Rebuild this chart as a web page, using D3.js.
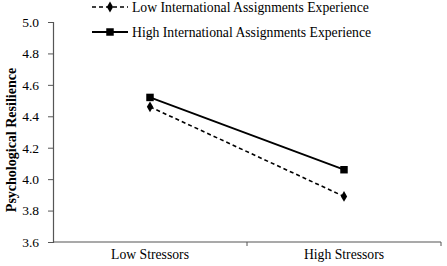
<!DOCTYPE html>
<html>
<head>
<meta charset="utf-8">
<script src="https://cdn.jsdelivr.net/npm/d3@7"></script>
<style>
  body { margin: 0; background: #fff; }
  text { font-family: "Liberation Serif", "Times New Roman", serif; fill: #000; }
</style>
</head>
<body>
<svg id="chart" width="447" height="266"></svg>
<script>
// data
var categories = ["Low Stressors", "High Stressors"];
var lowExperience = [4.46, 3.89];
var highExperience = [4.52, 4.06];
var yTicks = [3.6, 3.8, 4.0, 4.2, 4.4, 4.6, 4.8, 5.0];
var seriesNames = ["Low International Assignments Experience", "High International Assignments Experience"];

var svg = d3.select("#chart"),
    MARGINS = { top: 22, right: 6, bottom: 24, left: 53 },
    W = 447, H = 266;

var xScale = d3.scaleBand().domain(categories).range([MARGINS.left, W - MARGINS.right]);
var yScale = d3.scaleLinear().domain([3.6, 5.0]).range([H - MARGINS.bottom, MARGINS.top]);

// y axis
var yAxis = d3.axisLeft(yScale).tickValues(yTicks).tickFormat(d3.format(".1f")).tickSize(5).tickPadding(9);
var yG = svg.append("g").attr("transform", "translate(" + MARGINS.left + ",0)").call(yAxis);
yG.select(".domain").attr("stroke", "#555").attr("stroke-width", 1.2);
yG.selectAll(".tick line").attr("stroke", "#555");
yG.selectAll(".tick text").style("font-size", "13.5px").attr("fill", "#000");

// x axis (ticks at band edges)
var xG = svg.append("g").attr("transform", "translate(0," + (H - MARGINS.bottom) + ")");
xG.append("line").attr("x1", MARGINS.left).attr("x2", W - MARGINS.right)
  .attr("stroke", "#555").attr("stroke-width", 1.2);
var edges = categories.map(function (c) { return xScale(c); }).concat([W - MARGINS.right]);
xG.selectAll("line.edge").data(edges.slice(1)).enter().append("line").attr("class", "edge")
  .attr("x1", function (d) { return d; }).attr("x2", function (d) { return d; })
  .attr("y1", 0).attr("y2", 4).attr("stroke", "#555");
xG.selectAll("text.cat").data(categories).enter().append("text").attr("class", "cat")
  .attr("x", function (d) { return xScale(d) + xScale.bandwidth() / 2; })
  .attr("y", 17).attr("text-anchor", "middle").style("font-size", "13.7px")
  .text(function (d) { return d; });

// y title
svg.append("text")
  .attr("transform", "translate(16," + ((MARGINS.top + H - MARGINS.bottom) / 2 + 8) + ") rotate(-90)")
  .attr("text-anchor", "middle").style("font-size", "14px").style("font-weight", "bold")
  .text("Psychological Resilience");

var line = d3.line()
  .x(function (d, i) { return xScale(categories[i]) + xScale.bandwidth() / 2; })
  .y(function (d) { return yScale(d); });

// series
svg.append("path").attr("d", line(lowExperience)).attr("fill", "none")
  .attr("stroke", "#000").attr("stroke-width", 1.6).attr("stroke-dasharray", "4,3");
svg.append("path").attr("d", line(highExperience)).attr("fill", "none")
  .attr("stroke", "#000").attr("stroke-width", 1.8);

var diamond = d3.symbol().type(d3.symbolDiamond).size(34);
var square = d3.symbol().type(d3.symbolSquare).size(56);

svg.selectAll("path.lowPt").data(lowExperience).enter().append("path").attr("class", "lowPt")
  .attr("d", diamond)
  .attr("transform", function (d, i) { return "translate(" + (xScale(categories[i]) + xScale.bandwidth() / 2) + "," + yScale(d) + ")"; });
svg.selectAll("path.highPt").data(highExperience).enter().append("path").attr("class", "highPt")
  .attr("d", square)
  .attr("transform", function (d, i) { return "translate(" + (xScale(categories[i]) + xScale.bandwidth() / 2) + "," + yScale(d) + ")"; });

// legend
var legend = svg.append("g");
var legRows = [7, 32];
legend.append("line").attr("x1", 92).attr("x2", 128).attr("y1", legRows[0]).attr("y2", legRows[0])
  .attr("stroke", "#000").attr("stroke-width", 1.6).attr("stroke-dasharray", "4,3");
legend.append("path").attr("d", diamond).attr("transform", "translate(110," + legRows[0] + ")");
legend.append("line").attr("x1", 92).attr("x2", 128).attr("y1", legRows[1]).attr("y2", legRows[1])
  .attr("stroke", "#000").attr("stroke-width", 1.8);
legend.append("path").attr("d", square).attr("transform", "translate(110," + legRows[1] + ")");
legend.selectAll("text").data(seriesNames).enter().append("text")
  .attr("x", 132).attr("y", function (d, i) { return legRows[i] + 4.5; })
  .style("font-size", "13.7px").text(function (d) { return d; });
</script>
</body>
</html>
